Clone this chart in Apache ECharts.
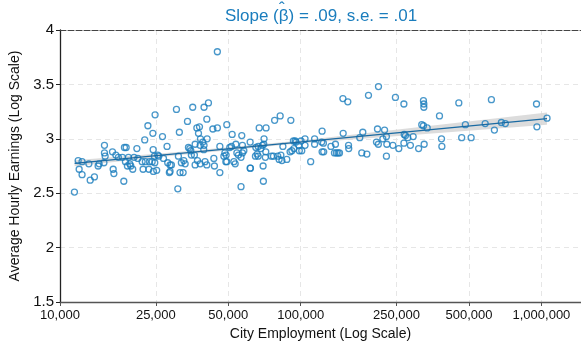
<!DOCTYPE html>
<html>
<head>
<meta charset="utf-8">
<script src="https://cdn.jsdelivr.net/npm/echarts@6/dist/echarts.min.js"></script>
<style>
  html, body { margin: 0; padding: 0; background: #fff; }
  #main { width: 581px; height: 349px; }
</style>
</head>
<body>
<div id="main"></div>
<script>
// city employment (x, log scale) and average hourly earnings (y, log scale)
const employment = [
  11480, 11900, 12350, 13180, 12010, 12350, 13350, 13900, 14400, 14540,
  15220, 15300, 15300, 15400, 16520, 16630, 16740, 17060, 17480, 18160,
  18410, 18520, 18700, 19060, 19250, 19500, 19680, 20050, 20310, 20860,
  21060, 21940, 22140, 22490, 22630, 23180, 23400, 23540, 24150, 24380,
  24670, 24830, 24760, 25220, 24440, 25730, 24310, 18830, 26650, 27840,
  30460, 35590, 39660, 41370, 33850, 31320, 37030, 37970, 37610, 40730,
  43150, 45050, 49310, 51900, 40850, 38330, 39190, 38220, 34170, 36420,
  34940, 39550, 46140, 50730, 53790, 31040, 45050, 25480, 26910, 28020,
  28660, 29030, 28660, 28460, 31930, 32690, 33110, 31520, 32470, 34620,
  35130, 36170, 36420, 37250, 38220, 39660, 40040, 40730, 43560, 43800,
  48410, 47950, 49000, 48860, 49310, 51550, 54290, 55110, 53430, 56900,
  57250, 57250, 56500, 58040, 61810, 56500, 30860, 46140, 52760,
  149700, 156900, 82150, 77910, 90980, 67220, 71790, 122700, 70410, 61640,
  65100, 66580, 68300, 69330, 70220, 64850, 65950, 66580, 71290, 71580,
  75610, 77050, 80280, 82710, 84320, 81330, 83520, 87540, 90330, 91870,
  93670, 93250, 94850, 95610, 98110, 100300, 98670, 101000, 104200, 104200,
  110000, 114200, 114200, 122200, 124200, 122700, 124600, 133500, 139400, 138100,
  140700, 143000, 144900, 150100, 158000, 158300, 61640, 69780, 69960,
  210400, 191200, 247400, 268300, 323500, 324700, 324700, 453700, 619700, 953900,
  377100, 208400, 223000, 181100, 175900, 219400, 227000, 206400, 210100, 227900,
  241500, 255500, 269100, 272400, 268300, 278400, 293200, 285500, 308900, 325700,
  318300, 323500, 335300, 384400, 385800, 466300, 510400, 483100, 583900, 637600,
  681800, 707900, 957600, 1055000, 179300, 188300, 227000
];
const earnings = [
  2.51, 2.80, 2.79, 2.77, 2.72, 2.67, 2.62, 2.65, 2.75, 2.77,
  2.78, 2.94, 2.87, 2.84, 2.88, 2.72, 2.68, 2.85, 2.83, 2.83,
  2.61, 2.92, 2.79, 2.75, 2.83, 2.77, 2.75, 2.72, 2.83, 2.91,
  2.82, 2.79, 2.72, 2.99, 2.79, 3.12, 2.72, 2.79, 2.79, 2.90,
  2.84, 3.22, 2.78, 2.71, 2.70, 2.84, 3.05, 2.92, 3.02, 2.93,
  3.27, 3.29, 3.29, 3.33, 3.16, 3.06, 3.10, 3.11, 3.05, 3.18,
  3.09, 3.10, 3.13, 3.04, 3.00, 3.00, 2.97, 2.94, 2.92, 2.95,
  2.89, 2.90, 2.93, 2.92, 2.95, 2.84, 3.80, 2.85, 2.82, 2.78,
  2.76, 2.76, 2.70, 2.69, 2.78, 2.80, 2.77, 2.69, 2.69, 2.91,
  2.85, 2.85, 2.76, 2.80, 2.77, 2.94, 2.79, 2.76, 2.82, 2.75,
  2.87, 2.84, 2.85, 2.79, 2.79, 2.93, 2.87, 2.85, 2.77, 3.03,
  2.94, 2.87, 2.83, 2.89, 2.73, 2.56, 2.54, 2.69, 2.79,
  3.37, 3.34, 3.21, 3.17, 3.17, 3.10, 3.10, 3.07, 3.00, 2.97,
  2.92, 2.93, 2.91, 2.94, 2.95, 2.84, 2.86, 2.84, 2.83, 2.88,
  2.84, 2.84, 2.84, 2.85, 2.93, 2.81, 2.80, 2.81, 2.88, 2.89,
  2.91, 2.98, 2.98, 2.97, 2.94, 2.98, 2.89, 2.89, 3.00, 2.94,
  2.79, 3.00, 2.95, 2.97, 2.96, 2.88, 2.88, 2.93, 2.95, 2.87,
  2.87, 2.87, 2.87, 3.05, 2.94, 2.91, 2.73, 2.75, 2.61,
  3.48, 3.40, 3.38, 3.32, 3.35, 3.32, 3.29, 3.33, 3.36, 3.32,
  3.21, 3.09, 3.08, 3.06, 3.01, 3.00, 3.02, 2.97, 2.95, 2.95,
  2.94, 2.91, 3.04, 3.03, 2.96, 3.01, 3.02, 2.94, 2.91, 2.95,
  3.13, 3.12, 3.10, 3.00, 2.93, 3.01, 3.01, 3.13, 3.14, 3.08,
  3.15, 3.14, 3.11, 3.19, 2.87, 2.86, 2.84
];

// fitted line and its confidence band
const fitX = [11500, 1055000];
const fitY = [2.775, 3.185];
const bandX = [11500, 30000, 100000, 300000, 1055000];
const bandLow = [2.747, 2.847, 2.958, 3.038, 3.128];
const bandHigh = [2.803, 2.877, 2.984, 3.104, 3.242];

const xTicks = [10000, 25000, 50000, 100000, 250000, 500000, 1000000];
const yMin = 1.5, yMax = 4, yStep = 0.5;

const blue = '#1a7dbd';
const font = 'Liberation Sans, Arial, Helvetica, sans-serif';

var chart = echarts.init(document.getElementById('main'));

const points = employment.map((e, i) => [e, earnings[i]]);

const option = {
  animation: false,
  title: {
    text: 'Slope (\u03B2) = .09, s.e. = .01',
    left: 321,
    top: 8,
    textAlign: 'center',
    padding: 0,
    textStyle: { color: blue, fontFamily: font, fontSize: 17, fontWeight: 'normal' },
  },
  // hat over the beta in the title
  graphic: [
    {
      type: 'text',
      left: 279,
      top: 1,
      silent: true,
      style: { text: '\u02C6', fill: blue, font: '17px ' + font },
    },
  ],
  grid: { left: 60, right: 0, top: 30, bottom: 47, containLabel: false },
  xAxis: [
    {
      type: 'log',
      logBase: 10,
      min: 10000,
      max: 1460000,
      name: 'City Employment (Log Scale)',
      nameLocation: 'middle',
      nameGap: 24,
      nameTextStyle: { color: '#111', fontFamily: font, fontSize: 14 },
      axisLine: { lineStyle: { color: '#555', width: 1.3 } },
      axisTick: { show: true, length: 4, customValues: xTicks, lineStyle: { color: '#555' } },
      axisLabel: {
        customValues: xTicks,
        color: '#111',
        fontFamily: font,
        fontSize: 13,
        margin: 7,
        formatter: (v) => Math.round(v).toLocaleString('en-US'),
      },
      splitLine: { show: true, lineStyle: { color: '#e6e6e6', type: [5, 4], width: 1 } },
    },
    {
      type: 'log',
      logBase: 10,
      position: 'top',
      min: 10000,
      max: 1460000,
      axisLine: { show: true, lineStyle: { color: '#444', width: 1, type: [6, 2] } },
      axisTick: { show: false },
      axisLabel: { show: false },
      splitLine: { show: false },
    },
  ],
  yAxis: {
    type: 'value',
    min: yMin,
    max: yMax,
    interval: yStep,
    name: 'Average Hourly Earnings (Log Scale)',
    nameLocation: 'middle',
    nameGap: 37,
    nameTextStyle: { color: '#111', fontFamily: font, fontSize: 14 },
    axisLine: { show: true, lineStyle: { color: '#222', width: 1.3 } },
    axisTick: { show: true, length: 4, lineStyle: { color: '#222' } },
    axisLabel: {
      color: '#111',
      fontFamily: font,
      fontSize: 15,
      margin: 6,
      formatter: (v) => String(+v.toFixed(1)),
    },
    splitLine: { show: true, lineStyle: { color: '#e6e6e6', type: [5, 4], width: 1 } },
  },
  series: [
    {
      type: 'custom',
      name: 'band',
      silent: true,
      data: [[bandX[0], bandLow[0]]],
      z: 1,
      renderItem: (params, api) => {
        const pts = [];
        bandX.forEach((x, i) => pts.push(api.coord([x, bandHigh[i]])));
        for (let i = bandX.length - 1; i >= 0; i--) pts.push(api.coord([bandX[i], bandLow[i]]));
        return { type: 'polygon', shape: { points: pts }, style: { fill: '#d6d6d6', opacity: 0.85 } };
      },
    },
    {
      type: 'scatter',
      data: points,
      symbol: 'circle',
      symbolSize: 6,
      z: 3,
      itemStyle: { color: 'rgba(255,255,255,0)', borderColor: blue, borderWidth: 1.3 },
    },
    {
      type: 'line',
      data: fitX.map((x, i) => [x, fitY[i]]),
      showSymbol: false,
      z: 4,
      lineStyle: { color: '#1a6aa2', width: 1.3 },
    },
  ],
};

option && chart.setOption(option);
</script>
</body>
</html>
